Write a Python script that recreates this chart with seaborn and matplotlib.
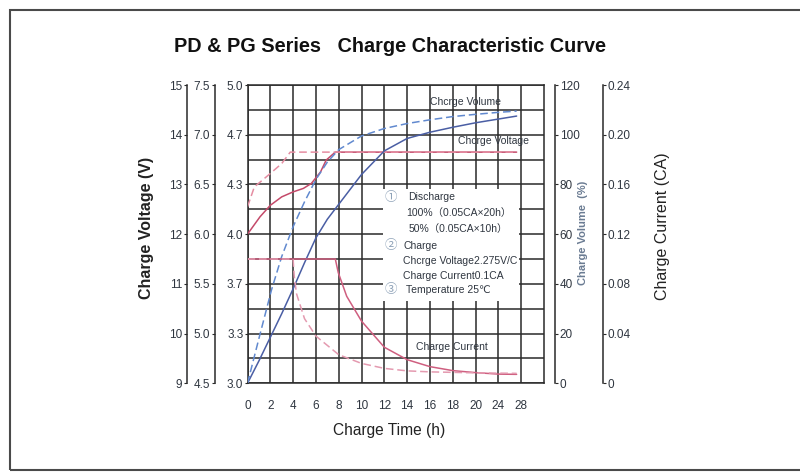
import numpy as np
import pandas as pd
import matplotlib
matplotlib.use("Agg")
import matplotlib.pyplot as plt
import seaborn as sns
from matplotlib.patches import Rectangle

sns.set_theme(style="white")
plt.rcParams["font.family"] = ["Liberation Sans", "DejaVu Sans", "Noto Sans CJK SC"]

# x axis: charge time (h); the last two ticks are 4 h apart, the box ends at 32 h
tick_hours = [0, 2, 4, 6, 8, 10, 12, 14, 16, 18, 20, 24, 28]
edge_hour = 32

# charge volume (%), 100% and 50% discharge
vol_100_h = [0, 1, 2, 3, 4, 5, 6, 7, 8, 10, 12, 14, 16, 18, 20, 24, 27.2]
vol_100 = [0, 9, 18.5, 28, 38, 48.5, 58.5, 66, 72, 84, 93.5, 98.5, 101, 103, 104.8, 106.3, 107.5]
vol_50_h = [0, 1, 2.1, 3, 4, 5, 6, 7, 8, 10, 12, 14, 16, 18, 20, 24, 27.2]
vol_50 = [0, 18, 37.5, 51, 63, 73, 82, 89, 94, 99.5, 102.5, 104.5, 106, 107.3, 108.2, 109, 109.5]

# charge voltage (V, 12 V battery)
volt_100_h = [0, 1.1, 2.0, 3.0, 4.0, 4.9, 5.6, 6.4, 6.9, 7.7, 27.2]
volt_100 = [12.0, 12.35, 12.58, 12.75, 12.85, 12.92, 13.02, 13.25, 13.49, 13.65, 13.65]
volt_50_h = [0, 0.6, 2.0, 3.0, 3.75, 27.2]
volt_50 = [12.55, 12.95, 13.22, 13.42, 13.65, 13.65]

# charge current (CA)
cur_100_h = [0, 7.7, 7.96, 8.7, 10, 12, 14, 16, 18, 20, 24, 27.2]
cur_100 = [0.1, 0.1, 0.089, 0.070, 0.050, 0.029, 0.019, 0.0134, 0.0102, 0.0086, 0.0074, 0.0072]
cur_50_h = [0, 4.0, 4.1, 4.3, 5.0, 6.0, 8.0, 10, 12, 14, 16, 20, 27.2]
cur_50 = [0.1, 0.1, 0.086, 0.072, 0.052, 0.038, 0.023, 0.016, 0.012, 0.010, 0.0092, 0.0084, 0.008]

legend_lines = [
    ("\u2460", "Discharge"),
    ("", "100%\uff080.05CA\u00d720h\uff09"),
    ("", "50%\uff080.05CA\u00d710h\uff09"),
    ("\u2461", "Charge"),
    ("", "Chcrge Voltage2.275V/C"),
    ("", "Charge Current0.1CA"),
    ("\u2462", "Temperature 25\u2103"),
]

GRID = "#2a2a2a"
TXT = "#2f3640"
BLUE = "#4a5ea4"
BLUE_D = "#6189cf"
RED = "#c44a6a"
RED_D = "#e58da2"
PINK = "#cf5f80"
PINK_D = "#e49ab0"

pos = list(range(len(tick_hours) + 1))
hrs = tick_hours + [edge_hour]


def fwd(h):
    return np.interp(h, hrs, pos)


def inv(p):
    return np.interp(p, pos, hrs)


fig = plt.figure(figsize=(8, 4.76), dpi=100)
ax = fig.add_axes([247.5 / 800, 1 - 383.3 / 476, 296.5 / 800, 298.3 / 476])
ax.set_xscale("function", functions=(fwd, inv))
ax.set_xlim(0, edge_hour)
ax.set_ylim(3.0, 5.0)

# grid: 13 columns, 12 rows
ax.set_xticks(tick_hours, [str(t) for t in tick_hours])
ax.set_yticks(np.linspace(3, 5, 7), [f"{v:.1f}" for v in np.linspace(3, 5, 7)])
ax.set_yticks(np.linspace(3, 5, 13)[1::2], minor=True)
ax.set_axisbelow(True)
ax.grid(True, which="both", axis="y", color=GRID, lw=1.1)
ax.grid(True, which="major", axis="x", color=GRID, lw=1.1)
for s in ax.spines.values():
    s.set_color(GRID)
    s.set_linewidth(1.1)
ax.tick_params(axis="y", which="major", length=2, width=0.8, pad=1, labelsize=8.5, labelcolor=TXT, left=True, color=GRID)
ax.tick_params(axis="y", which="minor", length=0)
ax.tick_params(axis="x", length=0, pad=12, labelsize=8.5, labelcolor=TXT)


def side_axis(where, lo, hi, ticks, labels, side):
    a = ax.twinx()
    a.set_ylim(lo, hi)
    a.grid(False)
    for s in a.spines.values():
        s.set_visible(False)
    a.spines[side].set_visible(True)
    a.spines[side].set_position(("axes", where))
    a.spines[side].set_color(GRID)
    a.spines[side].set_linewidth(1.1)
    a.yaxis.set_ticks_position(side)
    a.set_yticks(ticks, labels)
    a.tick_params(axis="y", length=2.5, width=0.8, pad=1, labelsize=8.5, labelcolor=TXT, color=GRID)
    return a


ax_v12 = side_axis(-0.204, 9, 15, range(9, 16), [str(v) for v in range(9, 16)], "left")
ax_v6 = side_axis(-0.110, 4.5, 7.5, np.linspace(4.5, 7.5, 7), [f"{v:.1f}" for v in np.linspace(4.5, 7.5, 7)], "left")
ax_pct = side_axis(1.037, 0, 120, range(0, 121, 20), [str(v) for v in range(0, 121, 20)], "right")
ax_ca = side_axis(1.198, 0, 0.24, np.linspace(0, 0.24, 7), ["0", "0.04", "0.08", "0.12", "0.16", "0.20", "0.24"], "right")

# curves
dash = (0, (5, 2.5))
sns.lineplot(x=vol_100_h, y=vol_100, ax=ax_pct, color=BLUE, lw=1.1)
sns.lineplot(x=vol_50_h, y=vol_50, ax=ax_pct, color=BLUE_D, lw=1.1, linestyle=dash)
sns.lineplot(x=volt_100_h, y=volt_100, ax=ax_v12, color=RED, lw=1.1)
sns.lineplot(x=volt_50_h, y=volt_50, ax=ax_v12, color=RED_D, lw=1.1, linestyle=dash)
sns.lineplot(x=cur_100_h, y=cur_100, ax=ax_ca, color=PINK, lw=1.1)
sns.lineplot(x=cur_50_h, y=cur_50, ax=ax_ca, color=PINK_D, lw=1.1, linestyle=dash)
for a in (ax_v12, ax_v6, ax_pct, ax_ca):
    a.set_xlabel("")
    a.set_ylabel("")

# white note box over the grid
ax.add_patch(Rectangle((0.457, 0.276), 0.459, 0.375, transform=ax.transAxes,
                       facecolor="white", edgecolor="none", zorder=3))
ys = [0.6245, 0.571, 0.5174, 0.4604, 0.41, 0.3597, 0.3128]
xs = [0.5413, 0.5346, 0.5447, 0.5245, 0.5245, 0.5245, 0.5346]
for (mark, txt), y, x in zip(legend_lines, ys, xs):
    if mark:
        ax.text(0.464, y, mark, transform=ax.transAxes, fontsize=9, color="#8ea2b8",
                family=["Noto Sans CJK SC", "DejaVu Sans"], va="center", ha="left", zorder=4)
    ax.text(x, y, txt, transform=ax.transAxes, fontsize=7.5, color=TXT,
            va="center", ha="left", zorder=4)

# curve names
ax_ca.text(0.7336, 0.943, "Chcrge Volume", transform=ax.transAxes, fontsize=7.5, color=TXT, ha="center", va="center")
ax_ca.text(0.831, 0.812, "Chcrge Voltage", transform=ax.transAxes, fontsize=7.5, color=TXT, ha="center", va="center")
ax_ca.text(0.69, 0.122, "Charge Current", transform=ax.transAxes, fontsize=7.5, color=TXT, ha="center", va="center")

# titles and axis names
fig.text(390 / 800, 1 - 47 / 476, "PD & PG Series   Charge Characteristic Curve",
         fontsize=14.3, fontweight="bold", color="#111111", ha="center", va="center")
fig.text(389 / 800, 1 - 430 / 476, "Charge Time (h)", fontsize=11.2, color="#222222", ha="center", va="center")
fig.text(146 / 800, 1 - 228 / 476, "Charge Voltage (V)", fontsize=11.5, fontweight="bold", color="#222222",
         rotation=90, ha="center", va="center")
fig.text(583 / 800, 1 - 233 / 476, "Charge Volume  (%)", fontsize=8, fontweight="bold", color="#6a7b92",
         rotation=90, ha="center", va="center")
fig.text(663 / 800, 1 - 226 / 476, "Charge Current (CA)", fontsize=11.5, color="#222222",
         rotation=90, ha="center", va="center")

# outer frame
fig.patches.append(Rectangle((10 / 800, 6 / 476), 1.0, 1 - 16 / 476, transform=fig.transFigure,
                             facecolor="none", edgecolor="#4a4a4a", lw=1.5))

fig.savefig("out.png", dpi=100)
